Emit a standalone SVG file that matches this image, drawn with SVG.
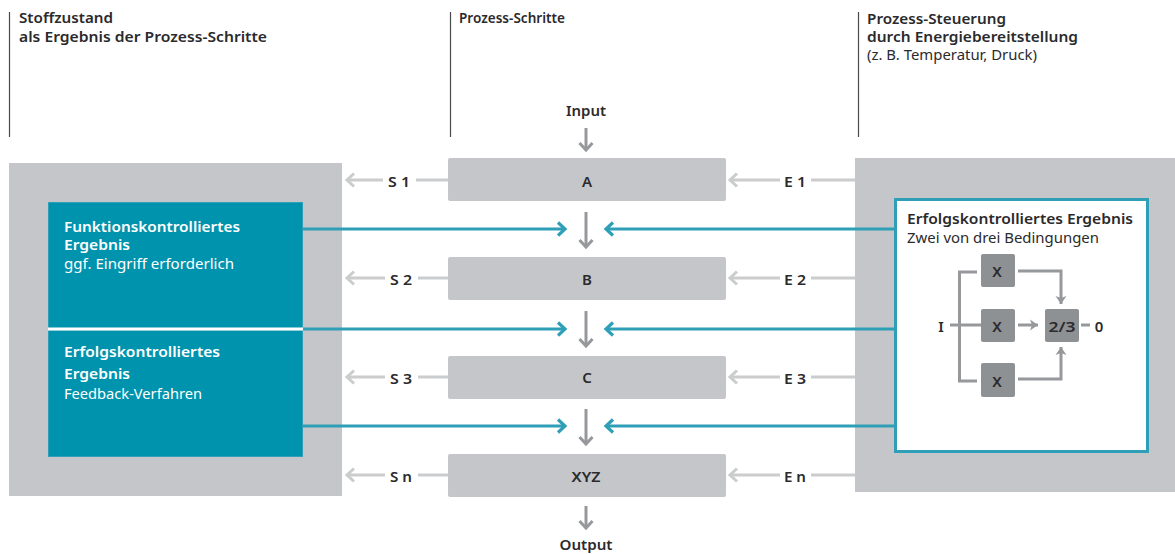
<svg xmlns="http://www.w3.org/2000/svg" width="1175" height="554" viewBox="0 0 1175 554">
<style>
text{font-family:"Noto Sans","Liberation Sans",sans-serif;font-size:15px;fill:#2b2a2c}
.b{font-weight:600}
.w{fill:#fff}
.m{text-anchor:middle}
.panel{fill:#c5c6c9}
.step{fill:#c5c6c9}
.dark{fill:#8e9194}
.rule{stroke:#4a4a4c;stroke-width:1.200;fill:none}
.lg{stroke:#cbccce;stroke-width:3;fill:none}
.dg{stroke:#96989b;stroke-width:3;fill:none}
.t{stroke:#2f9fb8;stroke-width:3;fill:none}
</style>
<defs>
<marker id="al" markerUnits="userSpaceOnUse" markerWidth="14" markerHeight="18" refX="11" refY="9" orient="auto"><path d="M4 2.500L11 9L4 15.500" fill="none" stroke="#cbccce" stroke-width="3"/></marker>
<marker id="ad" markerUnits="userSpaceOnUse" markerWidth="14" markerHeight="18" refX="11" refY="9" orient="auto"><path d="M4 2.500L11 9L4 15.500" fill="none" stroke="#96989b" stroke-width="3"/></marker>
<marker id="at" markerUnits="userSpaceOnUse" markerWidth="14" markerHeight="18" refX="11" refY="9" orient="auto"><path d="M4 2.500L11 9L4 15.500" fill="none" stroke="#2f9fb8" stroke-width="3.200"/></marker>
<marker id="as" markerUnits="userSpaceOnUse" markerWidth="12" markerHeight="14" refX="9" refY="7" orient="auto"><path d="M1 1.500L9 7L1 12.500L3 7Z" fill="#96989b"/></marker>
</defs>

<g id="header-left">
<path class="rule" d="M9.500 12V137"/>
<text class="b" x="19" y="23" textLength="94" lengthAdjust="spacingAndGlyphs">Stoffzustand</text>
<text class="b" x="19" y="42" textLength="248" lengthAdjust="spacingAndGlyphs">als Ergebnis der Prozess-Schritte</text>
</g>
<g id="header-middle">
<path class="rule" d="M450.500 12V137"/>
<text class="b" x="459" y="23" textLength="106" lengthAdjust="spacingAndGlyphs">Prozess-Schritte</text>
</g>
<g id="header-right">
<path class="rule" d="M858.500 12V137"/>
<text class="b" x="867" y="24" textLength="139" lengthAdjust="spacingAndGlyphs">Prozess-Steuerung</text>
<text class="b" x="867" y="42" textLength="211" lengthAdjust="spacingAndGlyphs">durch Energiebereitstellung</text>
<text x="867" y="60" textLength="170" lengthAdjust="spacingAndGlyphs">(z. B. Temperatur, Druck)</text>
</g>

<g id="panel-left"><rect class="panel" x="9" y="163" width="333" height="333"/></g>
<g id="panel-right"><rect class="panel" x="855" y="158" width="320" height="334"/></g>

<g id="connectors">
<path class="dg" marker-end="url(#ad)" d="M586 128V150"/>
<path class="dg" marker-end="url(#ad)" d="M586 212V247"/>
<path class="dg" marker-end="url(#ad)" d="M586 311V346"/>
<path class="dg" marker-end="url(#ad)" d="M586 409V444"/>
<path class="dg" marker-end="url(#ad)" d="M586 506V528"/>
<path class="t" marker-end="url(#at)" d="M303 229H565"/>
<path class="t" marker-end="url(#at)" d="M303 329H565"/>
<path class="t" marker-end="url(#at)" d="M303 426H565"/>
<path class="t" marker-end="url(#at)" d="M895 229H606"/>
<path class="t" marker-end="url(#at)" d="M895 329H606"/>
<path class="t" marker-end="url(#at)" d="M895 426H606"/>
<path class="lg" d="M448 180H416"/><path class="lg" marker-end="url(#al)" d="M383 180H347"/>
<path class="lg" d="M448 278H418"/><path class="lg" marker-end="url(#al)" d="M385 278H347"/>
<path class="lg" d="M448 377H418"/><path class="lg" marker-end="url(#al)" d="M385 377H347"/>
<path class="lg" d="M448 475H418"/><path class="lg" marker-end="url(#al)" d="M385 475H347"/>
<path class="lg" d="M855 180H811"/><path class="lg" marker-end="url(#al)" d="M780 180H730"/>
<path class="lg" d="M855 278H811"/><path class="lg" marker-end="url(#al)" d="M780 278H730"/>
<path class="lg" d="M855 377H811"/><path class="lg" marker-end="url(#al)" d="M780 377H730"/>
<path class="lg" d="M855 475H811"/><path class="lg" marker-end="url(#al)" d="M780 475H730"/>
</g>

<g id="step-input"><text class="b m" x="586" y="116" textLength="40" lengthAdjust="spacingAndGlyphs">Input</text></g>
<g id="step-a"><rect class="step" x="448" y="158" width="278" height="43" rx="2"/><text class="b m" x="587" y="187">A</text></g>
<g id="step-b"><rect class="step" x="448" y="257" width="278" height="43" rx="2"/><text class="b m" x="587" y="285">B</text></g>
<g id="step-c"><rect class="step" x="448" y="356" width="278" height="43" rx="2"/><text class="b m" x="587" y="383">C</text></g>
<g id="step-xyz"><rect class="step" x="448" y="454" width="278" height="43" rx="2"/><text class="b m" x="586" y="482" textLength="29" lengthAdjust="spacingAndGlyphs">XYZ</text></g>
<g id="step-output"><text class="b m" x="586" y="550" textLength="53" lengthAdjust="spacingAndGlyphs">Output</text></g>

<g id="labels-s">
<text class="b m" x="399" y="187" textLength="22" lengthAdjust="spacingAndGlyphs">S 1</text>
<text class="b m" x="401" y="285" textLength="22" lengthAdjust="spacingAndGlyphs">S 2</text>
<text class="b m" x="401" y="384" textLength="22" lengthAdjust="spacingAndGlyphs">S 3</text>
<text class="b m" x="401" y="482" textLength="22" lengthAdjust="spacingAndGlyphs">S n</text>
</g>
<g id="labels-e">
<text class="b m" x="795" y="187" textLength="22" lengthAdjust="spacingAndGlyphs">E 1</text>
<text class="b m" x="795" y="285" textLength="22" lengthAdjust="spacingAndGlyphs">E 2</text>
<text class="b m" x="795" y="384" textLength="22" lengthAdjust="spacingAndGlyphs">E 3</text>
<text class="b m" x="795" y="482" textLength="22" lengthAdjust="spacingAndGlyphs">E n</text>
</g>

<g id="result-function">
<rect x="48.500" y="202.500" width="254" height="127" fill="#0093ad" stroke="#2f9fb8" stroke-width="1"/>
<text class="b w" x="64" y="232" textLength="176" lengthAdjust="spacingAndGlyphs">Funktionskontrolliertes</text>
<text class="b w" x="64" y="250" textLength="66" lengthAdjust="spacingAndGlyphs">Ergebnis</text>
<text class="w" x="64" y="269" textLength="170" lengthAdjust="spacingAndGlyphs">ggf. Eingriff erforderlich</text>
</g>
<g id="result-success">
<rect x="48.500" y="330.500" width="254" height="126" fill="#0093ad" stroke="#2f9fb8" stroke-width="1"/>
<text class="b w" x="64" y="357" textLength="156" lengthAdjust="spacingAndGlyphs">Erfolgskontrolliertes</text>
<text class="b w" x="64" y="379" textLength="66" lengthAdjust="spacingAndGlyphs">Ergebnis</text>
<text class="w" x="64" y="399" textLength="138" lengthAdjust="spacingAndGlyphs">Feedback-Verfahren</text>
</g>
<path d="M48 329H303" stroke="#fff" stroke-width="3"/>

<g id="control-box">
<rect x="895.500" y="199.500" width="252" height="252" fill="#fff" stroke="#2f9fb8" stroke-width="3"/>
<text class="b" x="907" y="224" textLength="226" lengthAdjust="spacingAndGlyphs">Erfolgskontrolliertes Ergebnis</text>
<text x="907" y="243" textLength="192" lengthAdjust="spacingAndGlyphs">Zwei von drei Bedingungen</text>
<path class="dg" d="M977 272H959.500V381H977"/>
<path class="dg" d="M950 325H981"/>
<path class="dg" marker-end="url(#as)" d="M1018 271H1061V304"/>
<path class="dg" marker-end="url(#as)" d="M1018 325H1038"/>
<path class="dg" marker-end="url(#as)" d="M1018 379H1061V347"/>
<path class="dg" d="M1081 325H1090"/>
<text class="b m" x="941" y="332">I</text>
<text class="b m" x="1099" y="332">0</text>
</g>
<g id="gate-x1"><rect class="dark" x="981" y="254" width="34" height="33" rx="2"/><text class="b m" x="997" y="277">X</text></g>
<g id="gate-x2"><rect class="dark" x="981" y="309" width="34" height="33" rx="2"/><text class="b m" x="997" y="332">X</text></g>
<g id="gate-x3"><rect class="dark" x="981" y="363" width="34" height="34" rx="2"/><text class="b m" x="997" y="387">X</text></g>
<g id="gate-vote"><rect class="dark" x="1045" y="309" width="34" height="33" rx="2"/><text class="b m" x="1062" y="332" textLength="27" lengthAdjust="spacingAndGlyphs">2/3</text></g>
</svg>
